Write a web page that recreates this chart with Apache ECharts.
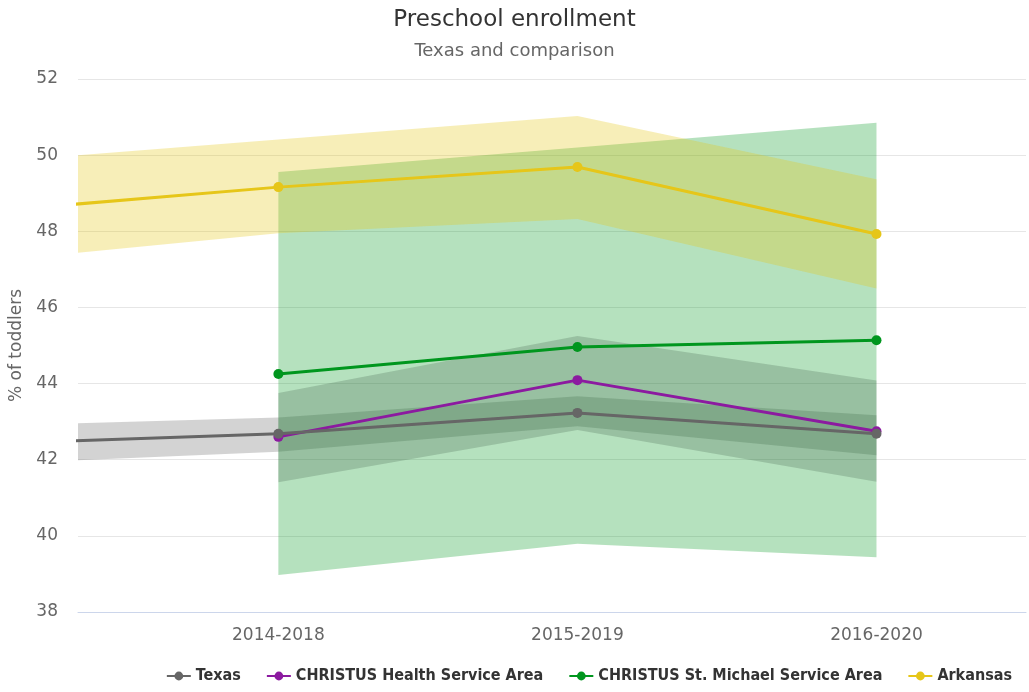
<!DOCTYPE html>
<html>
<head>
<meta charset="utf-8">
<title>Preschool enrollment</title>
<script src="https://cdn.jsdelivr.net/npm/echarts@6/dist/echarts.min.js"></script>
<style>
  html, body { margin: 0; padding: 0; background: #fff; }
  #chart { width: 1029px; height: 692px; }
</style>
</head>
<body>
<div id="chart"></div>
<script>
// categories (the first one sits left of the visible range and is clipped)
var categories = ['2013-2017', '2014-2018', '2015-2019', '2016-2020']

var texas = [42.41, 42.68, 43.23, 42.68]
var texasLow = [41.88, 42.21, 42.88, 42.12]
var texasHigh = [42.88, 43.11, 43.67, 43.17]

var christusHealth = [null, 42.60, 44.09, 42.75]
var christusHealthLow = [null, 41.41, 42.78, 41.42]
var christusHealthHigh = [null, 43.75, 45.25, 44.08]

var stMichael = [null, 44.25, 44.96, 45.14]
var stMichaelLow = [null, 38.97, 39.79, 39.44]
var stMichaelHigh = [null, 49.56, 50.20, 50.85]

var arkansas = [48.50, 49.16, 49.69, 47.93]
var arkansasLow = [47.18, 47.95, 48.32, 46.50]
var arkansasHigh = [49.79, 50.41, 51.03, 49.37]

var yTicks = { min: 38, max: 52, interval: 2 }

function pairs(values) {
  var out = []
  values.forEach(function (v, i) {
    if (v !== null) out.push([i, v])
  })
  return out
}

// range band drawn as one polygon through the axis scales
function bandSeries(name, low, high, fill, z) {
  var rows = []
  low.forEach(function (v, i) {
    if (v !== null) rows.push([i, low[i], high[i]])
  })
  return {
    type: 'custom',
    name: name,
    silent: true,
    clip: true,
    z: z,
    encode: { x: 0, y: [1, 2] },
    data: rows,
    renderItem: function (params, api) {
      if (params.dataIndex !== 0) return
      var top = rows.map(function (r) { return api.coord([r[0], r[2]]) })
      var bottom = rows.map(function (r) { return api.coord([r[0], r[1]]) }).reverse()
      var cs = params.coordSys
      return {
        type: 'polygon',
        shape: { points: top.concat(bottom) },
        style: { fill: fill },
        clipPath: { type: 'rect', shape: { x: cs.x, y: cs.y, width: cs.width, height: cs.height } }
      }
    }
  }
}

function lineSeries(name, values, color, z) {
  return {
    type: 'line',
    name: name,
    data: pairs(values),
    clip: true,
    z: z,
    symbol: 'circle',
    symbolSize: 10,
    showSymbol: true,
    lineStyle: { color: color, width: 3 },
    itemStyle: { color: color },
    emphasis: { disabled: true }
  }
}

var chart = echarts.init(document.getElementById('chart'))

var option = {
  animation: false,
  textStyle: { fontFamily: '"DejaVu Sans", sans-serif' },
  title: {
    text: 'Preschool enrollment',
    subtext: 'Texas and comparison',
    left: 'center',
    top: 4,
    itemGap: 10,
    textStyle: { fontSize: 23, fontWeight: 'normal', color: '#333' },
    subtextStyle: { fontSize: 18, color: '#666' }
  },
  legend: {
    bottom: 3,
    right: 12,
    itemGap: 25,
    itemWidth: 24,
    itemHeight: 11,
    textStyle: { fontSize: 16, fontWeight: 'bold', color: '#333', fontFamily: '"DejaVu Sans Condensed", "DejaVu Sans", sans-serif' },
    data: ['Texas', 'CHRISTUS Health Service Area', 'CHRISTUS St. Michael Service Area', 'Arkansas']
  },
  grid: { left: 78, right: 3, top: 79, bottom: 80, outerBoundsMode: 'none' },
  xAxis: {
    type: 'value',
    min: 0.33,
    max: 3.5,
    axisLine: { lineStyle: { color: '#ccd6eb' } },
    axisTick: { show: false },
    splitLine: { show: false },
    axisLabel: {
      customValues: [1, 2, 3],
      formatter: function (v) { return categories[Math.round(v)] },
      color: '#666',
      fontSize: 17,
      margin: 15
    }
  },
  yAxis: {
    type: 'value',
    min: yTicks.min,
    max: yTicks.max,
    interval: yTicks.interval,
    name: '% of toddlers',
    nameLocation: 'middle',
    nameGap: 53,
    nameTextStyle: { fontSize: 17, color: '#666' },
    axisLine: { show: false },
    axisTick: { show: false },
    splitLine: { lineStyle: { color: '#e6e6e6' } },
    axisLabel: { color: '#666', fontSize: 17, margin: 20 }
  },
  series: [
    bandSeries('Texas range', texasLow, texasHigh, 'rgba(102,102,102,0.29)', 1),
    bandSeries('CHRISTUS Health range', christusHealthLow, christusHealthHigh, 'rgba(90,70,90,0.25)', 1),
    bandSeries('CHRISTUS St. Michael range', stMichaelLow, stMichaelHigh, 'rgba(0,150,30,0.29)', 1),
    bandSeries('Arkansas range', arkansasLow, arkansasHigh, 'rgba(230,200,20,0.3)', 1),
    lineSeries('CHRISTUS Health Service Area', christusHealth, '#8c1aa0', 3),
    lineSeries('CHRISTUS St. Michael Service Area', stMichael, '#00961e', 3),
    lineSeries('Arkansas', arkansas, '#e6c619', 3),
    lineSeries('Texas', texas, '#666666', 4)
  ]
}

chart.setOption(option)
</script>
</body>
</html>
